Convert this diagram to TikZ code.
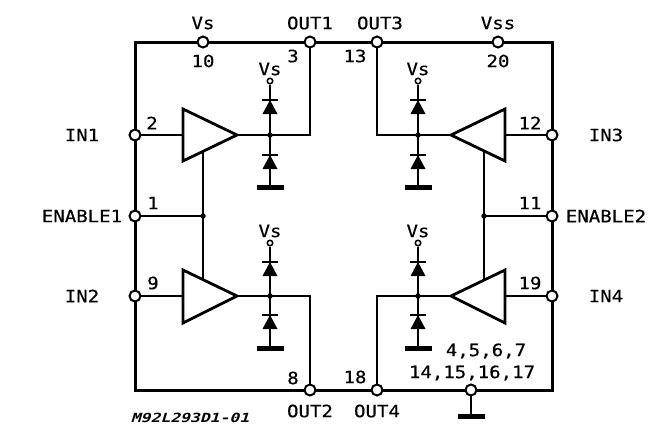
\documentclass[tikz,border=0pt]{standalone}
\usepackage{fontspec}
\newfontfamily\pixfont[FakeStretch=1.12,FakeBold=0.5]{DejaVu Sans Mono}
\newfontfamily\pixsmall[FakeStretch=1.3,FakeSlant=0.3]{DejaVu Sans Mono Bold}
\usetikzlibrary{calc}
\tikzset{
  frame/.style={line width=3pt},
  wire/.style={line width=2pt},
  pin/.style={circle,draw,fill=white,line width=2pt,minimum size=11pt,inner sep=0pt},
  vpin/.style={circle,draw,fill=white,line width=1.5pt,minimum size=5.5pt,inner sep=0pt},
  dot/.style={circle,fill=black,minimum size=5.5pt,inner sep=0pt},
  lbl/.style={font=\pixfont\fontsize{17}{18}\selectfont,inner sep=0pt,text=black},
  amp/.style={draw,line width=2.8pt,fill=white,line join=miter},
  gndbar/.style={line width=5pt},
}
\newcommand{\diodes}[8]{%
  \node[vpin] (#1v) at (#2,#3) {};
  \node[lbl] at (#2,#3-12) {Vs};
  \coordinate (#1n) at (#2,#6);
  \draw[wire] (#1v) -- (#1n);
  \fill (#2-7.5,#5) -- (#2+7.5,#5) -- (#2,#4) -- cycle;
  \draw[line width=1.4pt] (#2-8,#4) -- (#2+8,#4);
  \fill (#2-7.5,#8) -- (#2+7.5,#8) -- (#2,#7) -- cycle;
  \draw[line width=1.4pt] (#2-8,#7) -- (#2+8,#7);
}
\begin{document}
\begin{tikzpicture}[x=1pt,y=-1pt]
\useasboundingbox (0,0) rectangle (671,439);
\coordinate (tl) at (135,42); \coordinate (tr) at (552,42);
\coordinate (bl) at (135,390); \coordinate (br) at (552,390);
\draw[frame] (tl) -- (tr) -- (br) -- (bl) -- cycle;

\coordinate (nVs) at (203,42); \coordinate (nO1) at (310,42);
\coordinate (nO3) at (377,42); \coordinate (nVss) at (498,42);
\coordinate (nI1) at (135,135); \coordinate (nE1) at (135,216); \coordinate (nI2) at (135,296);
\coordinate (nI3) at (552,135); \coordinate (nE2) at (552,216); \coordinate (nI4) at (552,296);
\coordinate (nO2) at (310,390); \coordinate (nO4) at (377,390); \coordinate (nG) at (471,390);

\diodes{a}{270}{81}{100}{114}{135}{155}{169}
\diodes{b}{270}{243}{262}{276}{296}{315}{329}
\diodes{c}{418}{81}{100}{114}{135}{155}{169}
\diodes{d}{418}{243}{262}{276}{296}{315}{329}
\coordinate (ag) at (270,187); \coordinate (bg) at (270,348);
\coordinate (cg) at (418,187); \coordinate (dg) at (418,348);
\coordinate (gg) at (471,416);
\draw[wire] (an) -- (ag); \draw[wire] (bn) -- (bg); \draw[wire] (cn) -- (cg); \draw[wire] (dn) -- (dg); \draw[wire] (nG) -- (gg);
\foreach \g in {ag,bg,cg,dg,gg}
  \draw[gndbar] ($(\g)+(-13.5,0)$) -- ($(\g)+(13.5,0)$);

\coordinate (e1) at (203,216); \coordinate (e2) at (484,216);
\draw[wire] (nE1) -- (e1); \draw[wire] (nE2) -- (e2);
\draw[wire] (203,150) -- (e1) -- (203,284);
\draw[wire] (484,150) -- (e2) -- (484,284);

\draw[wire] (nI1) -- (183,135); \draw[wire] (nI2) -- (183,296);
\draw[wire] (nI3) -- (505,135); \draw[wire] (nI4) -- (505,296);
\draw[wire] (237,135) -- (an) -- (310,135) -- (nO1);
\draw[wire] (237,296) -- (bn) -- (310,296) -- (nO2);
\draw[wire] (452,135) -- (cn) -- (377,135) -- (nO3);
\draw[wire] (452,296) -- (dn) -- (377,296) -- (nO4);

\draw[amp] (183,109) -- (237,135) -- (183,161) -- cycle;
\draw[amp] (183,270) -- (237,296) -- (183,323) -- cycle;
\draw[amp] (505,109) -- (451,135) -- (505,161) -- cycle;
\draw[amp] (505,270) -- (451,296) -- (505,323) -- cycle;

\foreach \p in {an,bn,cn,dn,e1,e2} \node[dot] at (\p) {};
\foreach \p in {nVs,nO1,nO3,nVss,nI1,nE1,nI2,nI3,nE2,nI4,nO2,nO4,nG} \node[pin] at (\p) {};

\node[lbl] at (203,23) {Vs};
\node[lbl] at (310,23) {OUT1};
\node[lbl] at (380,23) {OUT3};
\node[lbl] at (498,23) {Vss};
\node[lbl] at (203,61) {10};
\node[lbl] at (293,56) {3};
\node[lbl] at (355,56) {13};
\node[lbl] at (498,61) {20};
\node[lbl] at (152,123) {2};
\node[lbl] at (153,203) {1};
\node[lbl] at (153,283) {9};
\node[lbl] at (530,123) {12};
\node[lbl] at (530,203) {11};
\node[lbl] at (530,283) {19};
\node[lbl] at (82,135) {IN1};
\node[lbl] at (82,216) {ENABLE1};
\node[lbl] at (82,296) {IN2};
\node[lbl] at (606,135) {IN3};
\node[lbl] at (606,216) {ENABLE2};
\node[lbl] at (606,296) {IN4};
\node[lbl] at (293,378) {8};
\node[lbl] at (355,377) {18};
\node[lbl] at (310,411) {OUT2};
\node[lbl] at (377,411) {OUT4};
\node[lbl] at (486,351) {4,5,6,7};
\node[lbl] at (472,373) {14,15,16,17};
\node[inner sep=0pt,font=\pixsmall\fontsize{12.6}{13}\selectfont] at (190,418) {M92L293D1-01};
\end{tikzpicture}
\end{document}
